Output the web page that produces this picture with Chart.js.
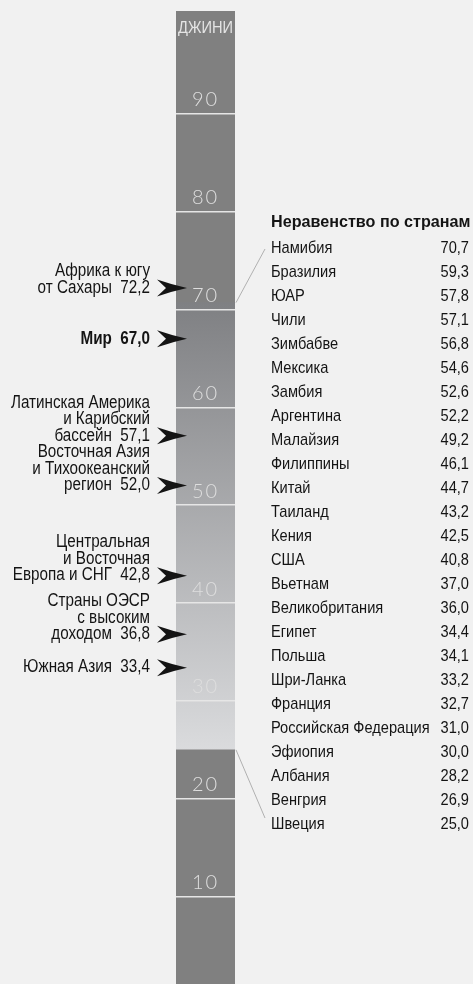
<!DOCTYPE html>
<html lang="ru">
<head>
    <meta charset="UTF-8">
    <title>Неравенство по странам</title>
    <script src="https://cdn.jsdelivr.net/npm/chart.js@4"></script>
    <style>
        html, body { margin: 0; padding: 0; background: #f1f1f1; overflow: hidden; }
        #wrap { position: relative; width: 473px; height: 1000px; }
    </style>
</head>
<body>
    <div id="wrap"><canvas id="giniChart" width="473" height="1000"></canvas></div>
    <script>
        // regions (arrows on the left)
        const regionNames = [
            'Африка к югу\nот Сахары',
            'Мир',
            'Латинская Америка\nи Карибский\nбассейн',
            'Восточная Азия\nи Тихоокеанский\nрегион',
            'Центральная\nи Восточная\nЕвропа и СНГ',
            'Страны ОЭСР\nс высоким\nдоходом',
            'Южная Азия'
        ];
        const regionValues = [72.2, 67.0, 57.1, 52.0, 42.8, 36.8, 33.4];

        // countries (list on the right)
        const countryNames = [
            'Намибия', 'Бразилия', 'ЮАР', 'Чили', 'Зимбабве', 'Мексика', 'Замбия',
            'Аргентина', 'Малайзия', 'Филиппины', 'Китай', 'Таиланд', 'Кения', 'США',
            'Вьетнам', 'Великобритания', 'Египет', 'Польша', 'Шри-Ланка', 'Франция',
            'Российская Федерация', 'Эфиопия', 'Албания', 'Венгрия', 'Швеция'
        ];
        const countryValues = [
            70.7, 59.3, 57.8, 57.1, 56.8, 54.6, 52.6, 52.2, 49.2, 46.1, 44.7, 43.2, 42.5,
            40.8, 37.0, 36.0, 34.4, 34.1, 33.2, 32.7, 31.0, 30.0, 28.2, 26.9, 25.0
        ];

        const tickValues = [10, 20, 30, 40, 50, 60, 70, 80, 90];
        const scaleLabel = 'ДЖИНИ';
        const scaleTop = 100.5;

        const lo = Math.min(...countryValues);
        const hi = Math.max(...countryValues);
        const dark = '#808080';
        const sans = '"Liberation Sans", Arial, sans-serif';

        const fmt = v => v.toFixed(1).replace('.', ',');

        function rangeFill(c) {
            const chart = c.chart;
            if (!chart.chartArea) return '#aaaaaa';
            const y = chart.scales.y;
            const g = chart.ctx.createLinearGradient(0, y.getPixelForValue(hi), 0, y.getPixelForValue(lo));
            g.addColorStop(0, '#7f8083');
            g.addColorStop(1, '#dadbdd');
            return g;
        }

        // condensed text: horizontal squeeze of a normal sans face
        function narrowText(ctx, str, x, yy, align, squeeze) {
            ctx.save();
            ctx.translate(x, yy);
            ctx.scale(squeeze, 1);
            ctx.textAlign = align;
            ctx.fillText(str, 0, 0);
            ctx.restore();
        }

        function drawArrow(ctx, tipX, yy) {
            ctx.beginPath();
            ctx.moveTo(tipX, yy);
            ctx.quadraticCurveTo(tipX - 14, yy - 3, tipX - 30, yy - 8.5);
            ctx.lineTo(tipX - 21, yy);
            ctx.lineTo(tipX - 30, yy + 8.5);
            ctx.quadraticCurveTo(tipX - 14, yy + 3, tipX, yy);
            ctx.closePath();
            ctx.fill();
        }

        const annotations = {
            id: 'annotations',
            afterDraw(chart) {
                const ctx = chart.ctx;
                const a = chart.chartArea;
                const y = chart.scales.y;
                const cx = (a.left + a.right) / 2;
                ctx.save();
                ctx.textBaseline = 'middle';

                // title and tick labels inside the bar
                ctx.fillStyle = '#e4e4e4';
                ctx.font = '17px ' + sans;
                narrowText(ctx, scaleLabel, cx, 28, 'center', 0.86);
                ctx.fillStyle = '#dedede';
                ctx.textAlign = 'center';
                ctx.font = '300 20px Lato, "DejaVu Sans", sans-serif';
                ctx.letterSpacing = '2px';
                tickValues.forEach(v => ctx.fillText(String(v), cx, y.getPixelForValue(v) - 14));
                ctx.letterSpacing = '0px';

                // regions with arrows
                ctx.fillStyle = '#141414';
                regionNames.forEach((name, i) => {
                    const yy = y.getPixelForValue(regionValues[i]);
                    drawArrow(ctx, a.left + 11, yy);
                    const lines = name.split('\n');
                    lines[lines.length - 1] += '  ' + fmt(regionValues[i]);
                    ctx.font = (name === 'Мир' ? 'bold ' : '') + '17.5px ' + sans;
                    lines.forEach((line, j) => {
                        narrowText(ctx, line, a.left - 26, yy - (lines.length - 1 - j) * 16.5, 'right', 0.87);
                    });
                });

                // country list
                const listX = a.right + 36;
                const valX = 469;
                const rowY = i => 248 + i * 24;
                ctx.font = 'bold 17px ' + sans;
                narrowText(ctx, 'Неравенство по странам', listX, 222, 'left', 0.95);
                ctx.font = '17px ' + sans;
                countryNames.forEach((name, i) => {
                    narrowText(ctx, name, listX, rowY(i), 'left', 0.86);
                    narrowText(ctx, fmt(countryValues[i]), valX, rowY(i), 'right', 0.86);
                });

                // bracket lines from the range to the list
                ctx.strokeStyle = '#b0b0b0';
                ctx.lineWidth = 1;
                ctx.beginPath();
                ctx.moveTo(a.right + 1, y.getPixelForValue(hi));
                ctx.lineTo(listX - 6, rowY(0) + 1);
                ctx.moveTo(a.right + 1, y.getPixelForValue(lo));
                ctx.lineTo(listX - 6, rowY(countryNames.length - 1) - 6);
                ctx.stroke();
                ctx.restore();
            }
        };

        new Chart(document.getElementById('giniChart'), {
            type: 'bar',
            data: {
                labels: [scaleLabel],
                datasets: [
                    { data: [[0, lo]], backgroundColor: dark },
                    { data: [[lo, hi]], backgroundColor: rangeFill },
                    { data: [[hi, scaleTop]], backgroundColor: dark }
                ]
            },
            options: {
                responsive: false,
                animation: false,
                layout: { padding: { left: 176, right: 238, top: 11, bottom: 5.5 } },
                datasets: {
                    bar: { grouped: false, barPercentage: 1, categoryPercentage: 1, borderWidth: 0 }
                },
                scales: {
                    x: { display: false },
                    y: {
                        min: 0,
                        max: scaleTop,
                        afterBuildTicks: s => { s.ticks = tickValues.map(v => ({ value: v })); },
                        grid: { color: '#e6e6e6', lineWidth: 1.5, drawTicks: false, z: 1 },
                        border: { display: false },
                        ticks: { display: false }
                    }
                },
                plugins: {
                    legend: { display: false },
                    tooltip: { enabled: false }
                }
            },
            plugins: [annotations]
        });
    </script>
</body>
</html>
